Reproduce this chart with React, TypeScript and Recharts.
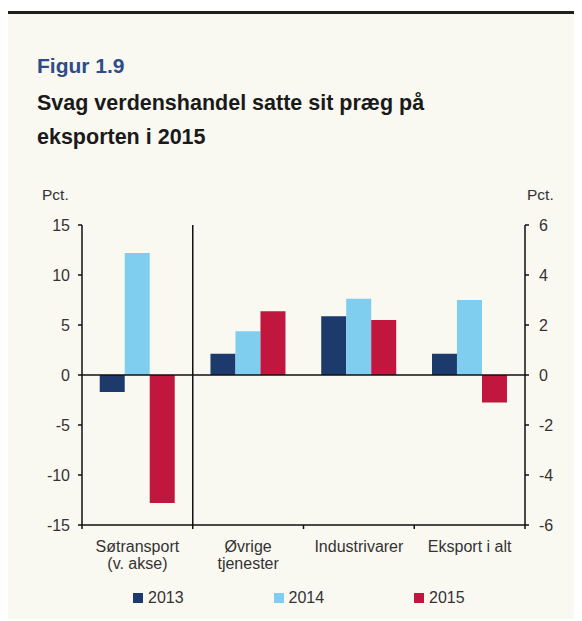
import { Bar, BarChart, ReferenceLine, XAxis, YAxis } from "recharts";

const categories = ["Søtransport|(v. akse)", "Øvrige|tjenester", "Industrivarer", "Eksport i alt"];
const years = ["2013", "2014", "2015"];
const colors = ["#1d3a6c", "#7fcdef", "#c1173e"];

// Søtransport is read on the left axis, the rest on the right axis
const left2013 = [-1.7, null, null, null];
const left2014 = [12.2, null, null, null];
const left2015 = [-12.8, null, null, null];
const right2013 = [null, 0.85, 2.35, 0.85];
const right2014 = [null, 1.75, 3.05, 3.0];
const right2015 = [null, 2.55, 2.2, -1.1];

const leftTicks = [-15, -10, -5, 0, 5, 10, 15];
const rightTicks = [-6, -4, -2, 0, 2, 4, 6];

const data = categories.map((c, i) => ({
  cat: c,
  l2013: left2013[i],
  l2014: left2014[i],
  l2015: left2015[i],
  r2013: right2013[i],
  r2014: right2014[i],
  r2015: right2015[i],
}));

const FONT = "'Liberation Sans', Arial, sans-serif";
const tickStyle = { fontSize: 16, fill: "#333", fontFamily: FONT };
const CAT_TICK_SIZE = 4;
const CAT_TICK_MARGIN = 12;

// category label plus small tick marks on the band edges
const CatTick = ({ x, y, payload }: any) => {
  const lines = String(payload.value).split("|");
  const axisY = y - CAT_TICK_SIZE - CAT_TICK_MARGIN;
  const half = payload.offset || 0;
  return (
    <g>
      {payload.index === 0 && (
        <line x1={x - half} x2={x - half} y1={axisY} y2={axisY + CAT_TICK_SIZE} stroke="#111" strokeWidth={1.5} />
      )}
      <line x1={x + half} x2={x + half} y1={axisY} y2={axisY + CAT_TICK_SIZE} stroke="#111" strokeWidth={1.5} />
      <text x={x} y={y} textAnchor="middle" fontSize={16} fill="#333" fontFamily={FONT}>
        {lines.map((l, i) => (
          <tspan key={i} x={x} dy={i === 0 ? "0.71em" : 17}>
            {l}
          </tspan>
        ))}
      </text>
    </g>
  );
};

export default function App() {
  return (
    <div
      style={{
        position: "relative",
        width: 572,
        height: 605,
        marginTop: 3,
        borderTop: "3px solid #1e1e1e",
        borderRight: "1px solid #e2e2dc",
        background: "#f9f8f1",
        fontFamily: FONT,
      }}
    >
      <div style={{ position: "absolute", left: 29, top: 40, fontWeight: "bold", fontSize: 21, color: "#2c4d8a" }}>
        Figur 1.9
      </div>
      <div
        style={{
          position: "absolute",
          left: 29,
          top: 72,
          fontWeight: "bold",
          fontSize: 21.5,
          lineHeight: "34px",
          color: "#1a1a1a",
          width: 440,
        }}
      >
        Svag verdenshandel satte sit præg på
        <br />
        eksporten i 2015
      </div>
      <div style={{ position: "absolute", left: 34, top: 172, fontSize: 15.5, color: "#333" }}>Pct.</div>
      <div style={{ position: "absolute", left: 519, top: 172, fontSize: 15.5, color: "#333" }}>Pct.</div>

      <div style={{ position: "absolute", left: 0, top: 149 }}>
        <BarChart
          width={572}
          height={430}
          data={data}
          margin={{ top: 62, right: 0, bottom: 0, left: 0 }}
          barCategoryGap="16%"
          barGap={0}
        >
          <XAxis
            xAxisId="cat"
            dataKey="cat"
            height={68}
            axisLine={{ stroke: "#111", strokeWidth: 1.5 }}
            tickLine={false}
            tickSize={CAT_TICK_SIZE}
            tickMargin={CAT_TICK_MARGIN}
            interval={0}
            tick={<CatTick />}
          />
          <YAxis
            yAxisId="left"
            width={74}
            domain={[-15, 15]}
            ticks={leftTicks}
            interval={0}
            tickSize={4}
            tickMargin={8}
            tick={tickStyle}
            axisLine={{ stroke: "#111", strokeWidth: 1.5 }}
            tickLine={{ stroke: "#111", strokeWidth: 1.5 }}
          />
          <YAxis
            yAxisId="right"
            orientation="right"
            width={55}
            domain={[-6, 6]}
            ticks={rightTicks}
            interval={0}
            tickSize={4}
            tickMargin={10}
            tick={tickStyle}
            axisLine={{ stroke: "#111", strokeWidth: 1.5 }}
            tickLine={{ stroke: "#111", strokeWidth: 1.5 }}
          />
          {years.map((y, i) => (
            <Bar
              key={"l" + y}
              dataKey={"l" + y}
              name={y}
              stackId={y}
              xAxisId="cat"
              yAxisId="left"
              fill={colors[i]}
              isAnimationActive={false}
            />
          ))}
          {years.map((y, i) => (
            <Bar
              key={"r" + y}
              dataKey={"r" + y}
              name={y}
              stackId={y}
              xAxisId="cat"
              yAxisId="right"
              fill={colors[i]}
              isAnimationActive={false}
            />
          ))}
          <ReferenceLine yAxisId="left" xAxisId="cat" y={0} stroke="#111" strokeWidth={1.5} />
          <ReferenceLine
            yAxisId="left"
            xAxisId="cat"
            x={categories[1]}
            position="start"
            stroke="#111"
            strokeWidth={1.5}
          />
        </BarChart>
      </div>

      {years.map((y, i) => (
        <div
          key={y}
          style={{
            position: "absolute",
            left: 125 + i * 140.5,
            top: 575,
            display: "flex",
            alignItems: "center",
            fontSize: 16,
            color: "#333",
          }}
        >
          <span style={{ width: 10, height: 10, background: colors[i], marginRight: 5, display: "inline-block" }} />
          {y}
        </div>
      ))}
    </div>
  );
}
